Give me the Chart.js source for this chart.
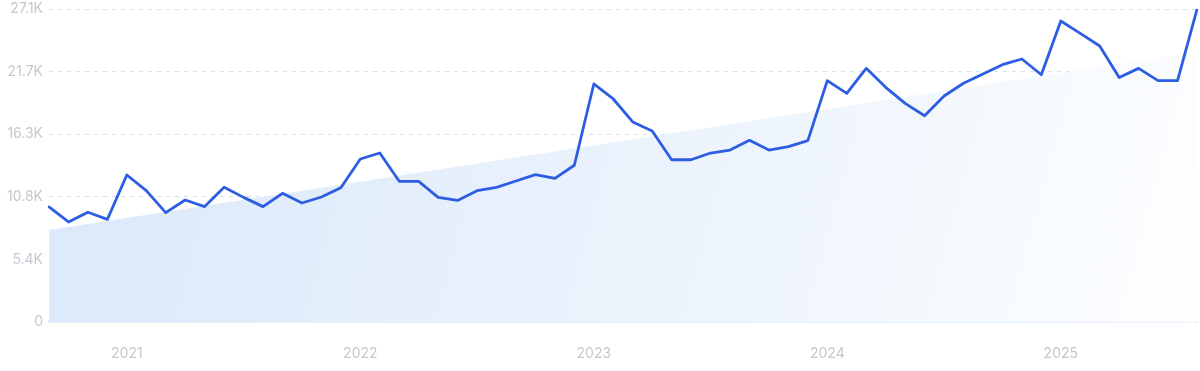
<!DOCTYPE html>
<html>
<head>
<meta charset="utf-8">
<script src="https://cdn.jsdelivr.net/npm/chart.js@4/dist/chart.umd.min.js"></script>
<style>
  html, body { margin: 0; padding: 0; background: #ffffff; }
  #wrap { width: 1200px; height: 371px; }
</style>
</head>
<body>
<div id="wrap"><canvas id="c" width="1200" height="371"></canvas></div>
<script>
const categories = [
  '2020-09','2020-10','2020-11','2020-12',
  '2021-01','2021-02','2021-03','2021-04','2021-05','2021-06','2021-07','2021-08','2021-09','2021-10','2021-11','2021-12',
  '2022-01','2022-02','2022-03','2022-04','2022-05','2022-06','2022-07','2022-08','2022-09','2022-10','2022-11','2022-12',
  '2023-01','2023-02','2023-03','2023-04','2023-05','2023-06','2023-07','2023-08','2023-09','2023-10','2023-11','2023-12',
  '2024-01','2024-02','2024-03','2024-04','2024-05','2024-06','2024-07','2024-08','2024-09','2024-10','2024-11','2024-12',
  '2025-01','2025-02','2025-03','2025-04','2025-05','2025-06','2025-07','2025-08'
];
const searchVolume = [
  9960, 8660, 9500, 8890,
  12730, 11370, 9470, 10560, 9990, 11660, 10790, 9990, 11140, 10300, 10820, 11630,
  14110, 14630, 12180, 12180, 10790, 10530, 11370, 11660, 12210, 12760, 12440, 13570,
  20610, 19310, 17320, 16540, 14050, 14050, 14630, 14890, 15730, 14890, 15180, 15700,
  20900, 19800, 21960, 20320, 18930, 17860, 19570, 20670, 21470, 22280, 22770, 21410,
  26060, 24990, 23900, 21160, 21960, 20900, 20900, 27070
];
const trendStart = 7970;
const trendEnd = 23400;
const yTickValues = [0, 5420, 10840, 16260, 21680, 27100];
const yTickLabels = ['0', '5.4K', '10.8K', '16.3K', '21.7K', '27.1K'];

const lastIdx = categories.length - 1;
const trendData = categories.map((_, i) => i === 0 ? trendStart : (i === lastIdx ? trendEnd : null));

const tickColor = '#c6c7cf';
const tickFont = { family: 'Inter, "Open Sans", sans-serif', size: 14 };

function trendFill(ctx) {
  const chart = ctx.chart;
  const a = chart.chartArea;
  if (!a) return '#e3eefb';
  const g = chart.ctx.createLinearGradient(a.left, a.top, a.right, a.bottom);
  g.addColorStop(0, '#dae8fa');
  g.addColorStop(0.5, '#eaf2fc');
  g.addColorStop(1, '#fdfeff');
  return g;
}

new Chart(document.getElementById('c'), {
  type: 'line',
  data: {
    labels: categories,
    datasets: [
      {
        label: 'Volume',
        data: searchVolume,
        borderColor: '#2d5de2',
        borderWidth: 2.8,
        pointRadius: 0,
        tension: 0,
        fill: false,
        borderJoinStyle: 'round',
        borderCapStyle: 'round'
      },
      {
        label: 'Trend',
        data: trendData,
        spanGaps: true,
        borderWidth: 0,
        borderColor: 'rgba(0,0,0,0)',
        pointRadius: 0,
        tension: 0,
        fill: 'origin',
        backgroundColor: trendFill
      }
    ]
  },
  options: {
    responsive: false,
    animation: false,
    devicePixelRatio: 1,
    layout: { padding: { top: 9, right: 3, left: 0, bottom: 0 } },
    plugins: { legend: { display: false }, tooltip: { enabled: false } },
    scales: {
      x: {
        type: 'category',
        offset: false,
        grid: { display: false, drawTicks: false },
        border: { display: true, color: '#c9e0fa', width: 1.5 },
        ticks: {
          autoSkip: false,
          maxRotation: 0,
          minRotation: 0,
          padding: 23,
          color: tickColor,
          font: tickFont,
          callback: function(value, index) {
            const c = categories[index];
            return c.endsWith('-01') ? c.slice(0, 4) : null;
          }
        },
        afterFit: function(scale) {
          scale.height = 49;
          scale.paddingLeft = 0;
          scale.paddingRight = 0;
        }
      },
      y: {
        min: 0,
        max: 27100,
        afterBuildTicks: function(scale) {
          scale.ticks = yTickValues.map(v => ({ value: v }));
        },
        grid: {
          drawTicks: false,
          color: function(ctx) { return ctx.index === 0 ? 'rgba(0,0,0,0)' : '#cfe2f8'; },
          lineWidth: 1
        },
        border: { display: false, dash: [4, 5] },
        ticks: {
          padding: 6,
          color: tickColor,
          font: tickFont,
          callback: function(value, index) { return yTickLabels[index]; }
        },
        afterFit: function(scale) {
          scale.width = 49;
          scale.paddingTop = 0;
          scale.paddingBottom = 0;
        }
      }
    }
  }
});
</script>
</body>
</html>
